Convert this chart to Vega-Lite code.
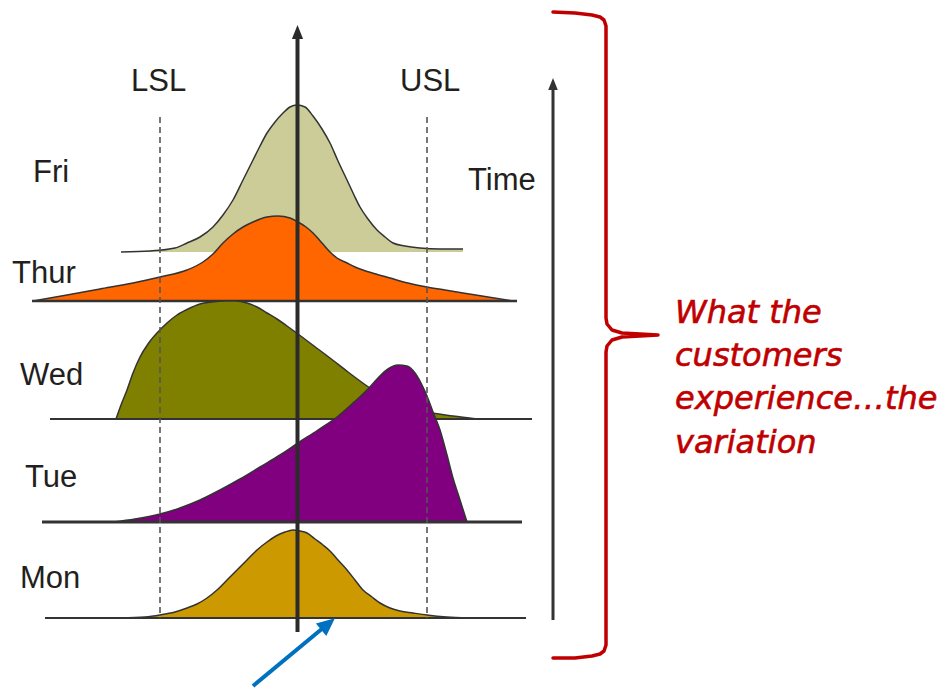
{
  "$schema": "https://vega.github.io/schema/vega-lite/v6.json",
  "width": 951,
  "height": 689,
  "autosize": {"type": "fit", "contains": "padding"},
  "padding": 0,
  "background": "white",
  "config": {"view": {"stroke": null}},
  "datasets": {
    "fri": [{"x":121,"y":252},{"x":150,"y":251},{"x":175,"y":248},{"x":187,"y":243},{"x":200,"y":237},{"x":213,"y":227},{"x":223,"y":215},{"x":233,"y":200},{"x":243,"y":180},{"x":253,"y":160},{"x":260,"y":146},{"x":267,"y":133},{"x":275,"y":122},{"x":283,"y":113},{"x":290,"y":107},{"x":297,"y":105},{"x":305,"y":107},{"x":313,"y":116},{"x":322,"y":129},{"x":330,"y":143},{"x":338,"y":161},{"x":347,"y":180},{"x":354,"y":195},{"x":360,"y":207},{"x":368,"y":219},{"x":377,"y":230},{"x":385,"y":237},{"x":393,"y":243},{"x":405,"y":246},{"x":420,"y":248},{"x":440,"y":249},{"x":463,"y":249}],
    "thur": [{"x":33,"y":301},{"x":67,"y":295},{"x":100,"y":289},{"x":133,"y":283},{"x":160,"y":277},{"x":187,"y":270},{"x":203,"y":262},{"x":213,"y":254},{"x":223,"y":243},{"x":233,"y":234},{"x":243,"y":227},{"x":253,"y":222},{"x":267,"y":217},{"x":278,"y":216},{"x":290,"y":218},{"x":298,"y":222},{"x":306,"y":227},{"x":313,"y":233},{"x":322,"y":243},{"x":330,"y":252},{"x":337,"y":258},{"x":347,"y":263},{"x":355,"y":267},{"x":363,"y":270},{"x":376,"y":274},{"x":390,"y":278},{"x":408,"y":283},{"x":427,"y":287},{"x":445,"y":290},{"x":463,"y":293},{"x":488,"y":297},{"x":513,"y":301}],
    "wed": [{"x":116,"y":419},{"x":121,"y":405},{"x":127,"y":390},{"x":133,"y":373},{"x":140,"y":357},{"x":148,"y":344},{"x":157,"y":333},{"x":167,"y":323},{"x":177,"y":315},{"x":188,"y":309},{"x":200,"y":304},{"x":212,"y":302},{"x":225,"y":301},{"x":236,"y":301},{"x":247,"y":303},{"x":257,"y":307},{"x":267,"y":313},{"x":277,"y":319},{"x":287,"y":326},{"x":298,"y":334},{"x":314,"y":346},{"x":330,"y":358},{"x":348,"y":372},{"x":367,"y":386},{"x":385,"y":398},{"x":405,"y":406},{"x":427,"y":412},{"x":453,"y":416},{"x":477,"y":419}],
    "tue": [{"x":113,"y":522},{"x":135,"y":519},{"x":160,"y":514},{"x":180,"y":508},{"x":200,"y":500},{"x":220,"y":490},{"x":240,"y":479},{"x":260,"y":467},{"x":280,"y":455},{"x":298,"y":443},{"x":318,"y":430},{"x":337,"y":417},{"x":352,"y":404},{"x":367,"y":390},{"x":378,"y":378},{"x":388,"y":369},{"x":398,"y":365},{"x":407,"y":366},{"x":415,"y":373},{"x":422,"y":385},{"x":427,"y":396},{"x":433,"y":412},{"x":440,"y":430},{"x":447,"y":455},{"x":453,"y":478},{"x":460,"y":500},{"x":467,"y":522}],
    "mon": [{"x":120,"y":618},{"x":145,"y":617},{"x":160,"y":615},{"x":175,"y":612},{"x":187,"y":608},{"x":197,"y":604},{"x":207,"y":598},{"x":217,"y":590},{"x":227,"y":580},{"x":237,"y":570},{"x":247,"y":560},{"x":257,"y":550},{"x":267,"y":542},{"x":276,"y":536},{"x":285,"y":532},{"x":293,"y":530},{"x":300,"y":531},{"x":307,"y":533},{"x":315,"y":539},{"x":323,"y":545},{"x":330,"y":551},{"x":338,"y":560},{"x":347,"y":570},{"x":355,"y":580},{"x":363,"y":590},{"x":372,"y":597},{"x":380,"y":603},{"x":390,"y":608},{"x":400,"y":611},{"x":413,"y":613},{"x":427,"y":615},{"x":447,"y":617},{"x":468,"y":618}],
    "baselines": [{"day":"Thur","x":32,"x2":517,"y":301},{"day":"Wed","x":50,"x2":532,"y":419},{"day":"Tue","x":42,"x2":522,"y":522},{"day":"Mon","x":45,"x2":526,"y":618}],
    "limits": [{"label":"LSL","x":160,"y":117,"y2":618},{"label":"USL","x":427,"y":117,"y2":618}],
    "shafts": [{"name":"center","x":297.5,"y":632,"x2":297.5,"y2":36},{"name":"time","x":553,"y":620,"x2":553,"y2":88},{"name":"blue","x":253,"y":686,"x2":329,"y2":623}],
    "heads": [{"name":"center","x":297.5,"y":32,"angle":0},{"name":"time","x":553,"y":84,"angle":0},{"name":"blue","x":328,"y":624,"angle":50}],
    "bracket": [{"i":1,"x":553,"y":12},{"i":2,"x":575,"y":13},{"i":3,"x":592,"y":15},{"i":4,"x":600,"y":17},{"i":5,"x":604,"y":20},{"i":6,"x":606,"y":26},{"i":7,"x":606,"y":318},{"i":8,"x":607,"y":324},{"i":9,"x":612,"y":330},{"i":10,"x":622,"y":333},{"i":11,"x":640,"y":334},{"i":12,"x":658,"y":335},{"i":13,"x":640,"y":336},{"i":14,"x":622,"y":337},{"i":15,"x":612,"y":340},{"i":16,"x":607,"y":346},{"i":17,"x":606,"y":352},{"i":18,"x":606,"y":645},{"i":19,"x":604,"y":651},{"i":20,"x":600,"y":654},{"i":21,"x":592,"y":656},{"i":22,"x":575,"y":658},{"i":23,"x":553,"y":658}],
    "labels": [{"text":"LSL","x":131,"y":91},{"text":"USL","x":400,"y":91},{"text":"Time","x":468,"y":190},{"text":"Fri","x":33,"y":182},{"text":"Thur","x":12,"y":283},{"text":"Wed","x":20,"y":385},{"text":"Tue","x":25,"y":487},{"text":"Mon","x":20,"y":588}],
    "note": [{"text":"What the","x":675,"y":323},{"text":"customers","x":675,"y":366},{"text":"experience…the","x":675,"y":409},{"text":"variation","x":675,"y":453}]
  },
  "encoding": {
    "x": {"field": "x", "type": "quantitative", "scale": {"domain": [0, 951], "nice": false, "zero": false}, "axis": null},
    "y": {"field": "y", "type": "quantitative", "scale": {"domain": [0, 689], "nice": false, "zero": false, "reverse": true}, "axis": null}
  },
  "layer": [
    {"data": {"name": "fri"}, "mark": {"type": "area", "color": "#cccc99", "opacity": 1, "interpolate": "monotone", "line": {"color": "#333333", "stroke": "#333333", "strokeWidth": 1.5}}, "encoding": {"y2": {"datum": 252}}},
    {"data": {"name": "thur"}, "mark": {"type": "area", "color": "#ff6600", "opacity": 1, "interpolate": "monotone", "line": {"color": "#333333", "stroke": "#333333", "strokeWidth": 1.5}}, "encoding": {"y2": {"datum": 301}}},
    {"data": {"name": "baselines"}, "transform": [{"filter": "datum.day === 'Thur'"}], "mark": {"type": "rule", "color": "#333333", "strokeWidth": 2.5}, "encoding": {"x2": {"field": "x2"}}},
    {"data": {"name": "wed"}, "mark": {"type": "area", "color": "#808000", "opacity": 1, "interpolate": "monotone", "line": {"color": "#333333", "stroke": "#333333", "strokeWidth": 1.5}}, "encoding": {"y2": {"datum": 419}}},
    {"data": {"name": "baselines"}, "transform": [{"filter": "datum.day === 'Wed'"}], "mark": {"type": "rule", "color": "#333333", "strokeWidth": 2}, "encoding": {"x2": {"field": "x2"}}},
    {"data": {"name": "tue"}, "mark": {"type": "area", "color": "#800080", "opacity": 1, "interpolate": "monotone", "line": {"color": "#333333", "stroke": "#333333", "strokeWidth": 1.5}}, "encoding": {"y2": {"datum": 522}}},
    {"data": {"name": "baselines"}, "transform": [{"filter": "datum.day === 'Tue'"}], "mark": {"type": "rule", "color": "#333333", "strokeWidth": 3}, "encoding": {"x2": {"field": "x2"}}},
    {"data": {"name": "mon"}, "mark": {"type": "area", "color": "#cc9900", "opacity": 1, "interpolate": "monotone", "line": {"color": "#333333", "stroke": "#333333", "strokeWidth": 1.5}}, "encoding": {"y2": {"datum": 618}}},
    {"data": {"name": "baselines"}, "transform": [{"filter": "datum.day === 'Mon'"}], "mark": {"type": "rule", "color": "#333333", "strokeWidth": 2}, "encoding": {"x2": {"field": "x2"}}},
    {"data": {"name": "limits"}, "mark": {"type": "rule", "color": "#555555", "strokeWidth": 1.6, "strokeDash": [6, 4]}, "encoding": {"y2": {"field": "y2"}}},
    {"data": {"name": "shafts"}, "transform": [{"filter": "datum.name === 'center'"}], "mark": {"type": "rule", "color": "#2b2b2b", "strokeWidth": 4}, "encoding": {"x2": {"field": "x2"}, "y2": {"field": "y2"}}},
    {"data": {"name": "shafts"}, "transform": [{"filter": "datum.name === 'time'"}], "mark": {"type": "rule", "color": "#333333", "strokeWidth": 3}, "encoding": {"x2": {"field": "x2"}, "y2": {"field": "y2"}}},
    {"data": {"name": "shafts"}, "transform": [{"filter": "datum.name === 'blue'"}], "mark": {"type": "rule", "color": "#0070c0", "strokeWidth": 4}, "encoding": {"x2": {"field": "x2"}, "y2": {"field": "y2"}}},
    {"data": {"name": "heads"}, "transform": [{"filter": "datum.name === 'center'"}], "mark": {"type": "point", "shape": "M-0.8,1L0.8,1L0,-1Z", "filled": true, "color": "#2b2b2b", "opacity": 1, "size": 196}, "encoding": {"angle": {"field": "angle", "type": "quantitative", "scale": null}}},
    {"data": {"name": "heads"}, "transform": [{"filter": "datum.name === 'time'"}], "mark": {"type": "point", "shape": "M-0.8,1L0.8,1L0,-1Z", "filled": true, "color": "#333333", "opacity": 1, "size": 144}, "encoding": {"angle": {"field": "angle", "type": "quantitative", "scale": null}}},
    {"data": {"name": "heads"}, "transform": [{"filter": "datum.name === 'blue'"}], "mark": {"type": "point", "shape": "M-0.9,1L0.9,1L0,-1Z", "filled": true, "color": "#0070c0", "opacity": 1, "size": 324}, "encoding": {"angle": {"field": "angle", "type": "quantitative", "scale": null}}},
    {"data": {"name": "bracket"}, "mark": {"type": "line", "color": "#c00000", "strokeWidth": 3.5, "strokeJoin": "round", "strokeCap": "round"}, "encoding": {"order": {"field": "i", "type": "quantitative"}}},
    {"data": {"name": "labels"}, "mark": {"type": "text", "font": "Liberation Sans", "fontSize": 31, "color": "#231f20", "align": "left", "baseline": "alphabetic"}, "encoding": {"text": {"field": "text"}}},
    {"data": {"name": "note"}, "mark": {"type": "text", "font": "DejaVu Sans", "fontStyle": "italic", "fontSize": 32, "color": "#c00000", "stroke": "#c00000", "strokeWidth": 0.6, "align": "left", "baseline": "alphabetic"}, "encoding": {"text": {"field": "text"}}}
  ]
}
